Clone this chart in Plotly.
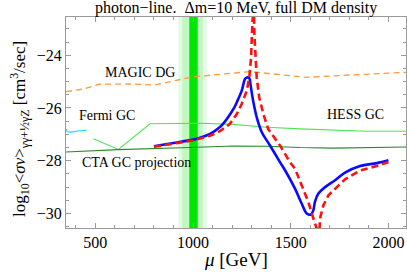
import plotly.graph_objects as go

# ---------------- data ----------------
blue_x = [800, 900, 1000, 1036, 1087, 1138, 1165, 1189, 1210, 1224, 1249, 1266, 1275, 1288, 1295,
          1309, 1326, 1352, 1394, 1445, 1471, 1522, 1556, 1582, 1604, 1616, 1624, 1641, 1676,
          1727, 1778, 1855, 1940, 2000]
blue_y = [-27.45, -27.33, -27.2, -27.13, -26.98, -26.72, -26.5, -26.25, -26.0, -25.78, -25.35, -24.9,
          -24.84, -24.87, -25.16, -25.78, -26.35, -26.92, -27.42, -28.05, -28.36, -29.06, -29.62,
          -30.0, -30.04, -29.87, -29.56, -29.25, -29.0, -28.74, -28.45, -28.2, -28.09, -27.98]

red_x = [800, 900, 1000, 1036, 1087, 1138, 1189, 1224, 1249, 1275, 1288, 1297, 1302, 1306, 1310,
         1314, 1319, 1326, 1339, 1360, 1385, 1445, 1496, 1522, 1556, 1590, 1616, 1633, 1638,
         1643, 1650, 1667, 1693, 1727, 1778, 1855, 1940, 2000]
red_y = [-27.47, -27.36, -27.23, -27.16, -27.05, -26.88, -26.6, -26.23, -25.85, -25.35, -24.84,
         -24.09, -23.2, -21.6, -21.6, -23.2, -24.09, -24.84, -25.6, -26.23, -26.8, -27.42, -28.05,
         -28.3, -28.93, -29.56, -30.19, -30.57, -31.3, -31.3, -30.19, -29.69, -29.31, -29.06,
         -28.7, -28.37, -28.2, -28.05]

magic_x = [350, 440, 520, 700, 800, 900, 1000, 1100, 1290, 1400, 1580, 1800, 2090]
magic_y = [-25.38, -25.28, -25.1, -25.09, -25.13, -24.97, -24.82, -24.75, -24.62, -24.7, -24.84,
           -24.75, -24.65]

fermi_x = [350, 356, 375, 404, 456]
fermi_y = [-26.8, -26.9, -26.92, -26.88, -26.84]

hess_x = [490, 618, 780, 985, 1036, 1206, 1377, 1548, 1718, 1889, 2090]
hess_y = [-27.17, -27.57, -26.6, -26.57, -26.58, -26.62, -26.73, -26.79, -26.83, -26.88, -26.88]

cta_x = [350, 618, 985, 1206, 1377, 1548, 1718, 1889, 2090]
cta_y = [-27.67, -27.58, -27.5, -27.44, -27.45, -27.5, -27.52, -27.5, -27.48]

band_outer = [925, 1070]
band_mid = [945, 1050]
band_core = [981, 1024]

x_range = [350, 2090]
y_range = [-30.55, -22.55]

SERIF = "Liberation Serif"

fig = go.Figure()

# green bands
for (x0, x1), col in [(band_outer, "#e3fbe3"), (band_mid, "#c2f6c2"), (band_core, "#00e600")]:
    fig.add_shape(type="rect", xref="x", yref="paper", x0=x0, x1=x1, y0=0, y1=1,
                  fillcolor=col, line=dict(width=0), layer="below")

fig.add_trace(go.Scatter(x=magic_x, y=magic_y, mode="lines",
                         line=dict(color="#ff9a3c", width=1.3, dash="6px,4px")))
fig.add_trace(go.Scatter(x=fermi_x, y=fermi_y, mode="lines",
                         line=dict(color="#33e0ff", width=1.3)))
fig.add_trace(go.Scatter(x=hess_x, y=hess_y, mode="lines",
                         line=dict(color="#4de84d", width=1.1)))
fig.add_trace(go.Scatter(x=cta_x, y=cta_y, mode="lines",
                         line=dict(color="#2a8a2a", width=1.1)))
fig.add_trace(go.Scatter(x=blue_x, y=blue_y, mode="lines", line_shape="spline",
                         line=dict(color="#0a0aff", width=2.6)))
fig.add_trace(go.Scatter(x=red_x, y=red_y, mode="lines",
                         line=dict(color="#ff1010", width=2.6, dash="7px,4px")))

labels = [("MAGIC DG", 729, -24.64), ("Fermi GC", 558, -26.29),
          ("CTA GC projection", 712, -28.08), ("HESS GC", 1829, -26.23)]
for txt, lx, ly in labels:
    fig.add_annotation(x=lx, y=ly, text=txt, showarrow=False,
                       font=dict(family=SERIF, size=14, color="black"))

axis_common = dict(showgrid=False, zeroline=False, showline=True, linecolor="#9a9a9a",
                   linewidth=1, mirror="allticks", ticks="inside", tickcolor="#9a9a9a",
                   tickfont=dict(family=SERIF, size=16, color="black"))

fig.update_xaxes(range=x_range, tickvals=[500, 1000, 1500, 2000], ticklen=5,
                 minor=dict(dtick=100, tick0=0, ticks="inside", ticklen=3, tickcolor="#9a9a9a"),
                 **axis_common)
fig.update_yaxes(range=y_range, tickvals=[-30, -28, -26, -24], ticklen=5,
                 minor=dict(dtick=0.5, tick0=0, ticks="inside", ticklen=3, tickcolor="#9a9a9a"),
                 **axis_common)

# axis titles and plot title
fig.add_annotation(xref="paper", yref="paper", x=0.5, y=0, yanchor="top", yshift=-19,
                   text="<i>μ</i> [GeV]", showarrow=False,
                   font=dict(family=SERIF, size=19, color="black"))
fig.add_annotation(xref="paper", yref="paper", x=-0.135, y=0.47, textangle=-90,
                   text="log<sub>10</sub>&lt;<i>σv</i>&gt;<sub>γγ+½γZ</sub> [cm<sup>3</sup>/sec]",
                   showarrow=False, xanchor="center", yanchor="middle",
                   font=dict(family=SERIF, size=17, color="black"))
fig.add_annotation(xref="paper", yref="paper", x=0.5, y=1, yanchor="bottom", yshift=-2,
                   text="photon−line.  Δm=10 MeV, full DM density", showarrow=False,
                   font=dict(family=SERIF, size=16, color="black"))

fig.update_layout(
    width=407, height=272, showlegend=False,
    margin=dict(l=66, r=1, t=17, b=44),
    paper_bgcolor="white", plot_bgcolor="white",
)

fig.write_html("out.html", config={"displayModeBar": False, "staticPlot": True},
               post_script="document.body.style.margin='0';document.body.style.overflow='hidden';")
